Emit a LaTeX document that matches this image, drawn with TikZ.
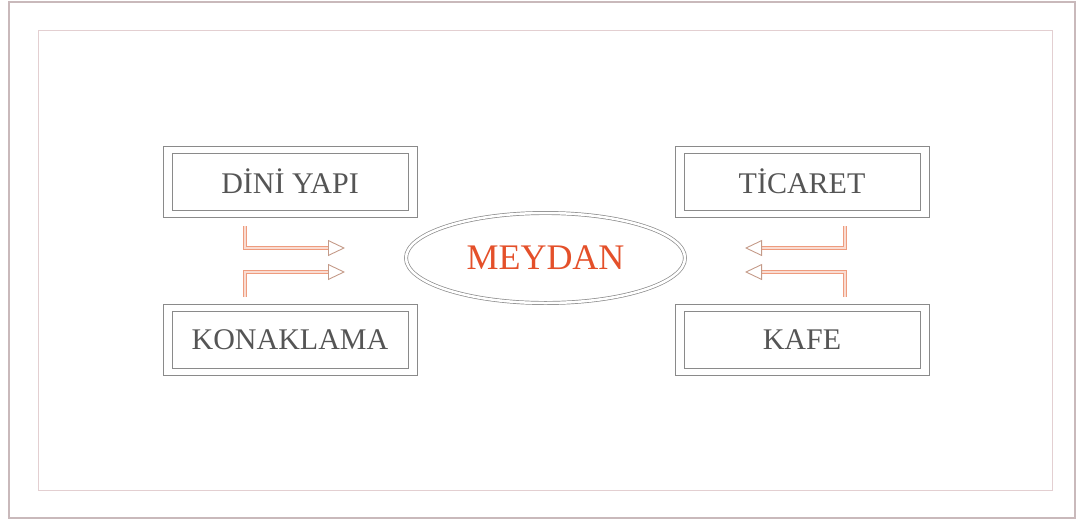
\documentclass[tikz,border=0pt]{standalone}
\usepackage{fontspec}
\setmainfont{Liberation Serif}
\usetikzlibrary{arrows.meta}
\usetikzlibrary{shapes}
\definecolor{framec}{HTML}{C9B9BB}
\definecolor{inframe}{HTML}{E3CFD1}
\definecolor{boxline}{HTML}{8A8A8A}
\definecolor{boxtext}{HTML}{555555}
\definecolor{meyred}{HTML}{E4502A}
\definecolor{flowc}{HTML}{EE9C7E}
\definecolor{tipc}{HTML}{C49A88}
\tikzset{>={Triangle[open,width=16pt,length=17pt,color=tipc]}}
\tikzset{
  unitbox/.style={draw=boxline, line width=0.8pt,
    minimum width=236pt, minimum height=57pt, text=boxtext, font=\fontsize{30}{30}\selectfont},
  square/.style={draw=boxline, line width=0.7pt, double=white, double distance=2.5pt,
    ellipse, minimum width=279pt, minimum height=90pt, text=meyred,
    font=\fontsize{36}{36}\selectfont},
  flow/.style={draw=flowc, line width=0.9pt, double=flowc!35, double distance=1.6pt,
    ->, line cap=butt}
}

\begin{document}
\begin{tikzpicture}[x=1pt,y=-1pt]

  \useasboundingbox (0,0) rectangle (1079,520);

  %% frames
  \draw[framec, line width=1.2pt] (9,2) rectangle (1075,518);
  \draw[inframe, line width=1pt] (38,30) rectangle (1052,490);

  %% units
  \node[unitbox] (dini) at (290,181.5) {DİNİ YAPI};
  \node[unitbox] (konak) at (290,340) {KONAKLAMA};
  \node[unitbox] (ticaret) at (802,181.5) {TİCARET};
  \node[unitbox] (kafe) at (802,340) {KAFE};
  \foreach \n in {dini,konak,ticaret,kafe}
    \draw[boxline, line width=0.8pt] ([shift={(-8.5pt,-6.5pt)}]\n.south west)
      rectangle ([shift={(8.5pt,6.5pt)}]\n.north east);

  %% square
  \node[square] (meydan) at (545.5,258) {MEYDAN};

  %% arrow ends
  \coordinate (l1) at (245,226);
  \coordinate (l2) at (245,297);
  \coordinate (l1e) at (345,248);
  \coordinate (l2e) at (345,272);
  \coordinate (r1) at (845,226);
  \coordinate (r2) at (845,297);
  \coordinate (r1e) at (745,248);
  \coordinate (r2e) at (745,272);

  %% to the square
  \draw[flow] (l1) |- (l1e);
  \draw[flow] (l2) |- (l2e);
  \draw[flow] (r1) |- (r1e);
  \draw[flow] (r2) |- (r2e);

\end{tikzpicture}
\end{document}
